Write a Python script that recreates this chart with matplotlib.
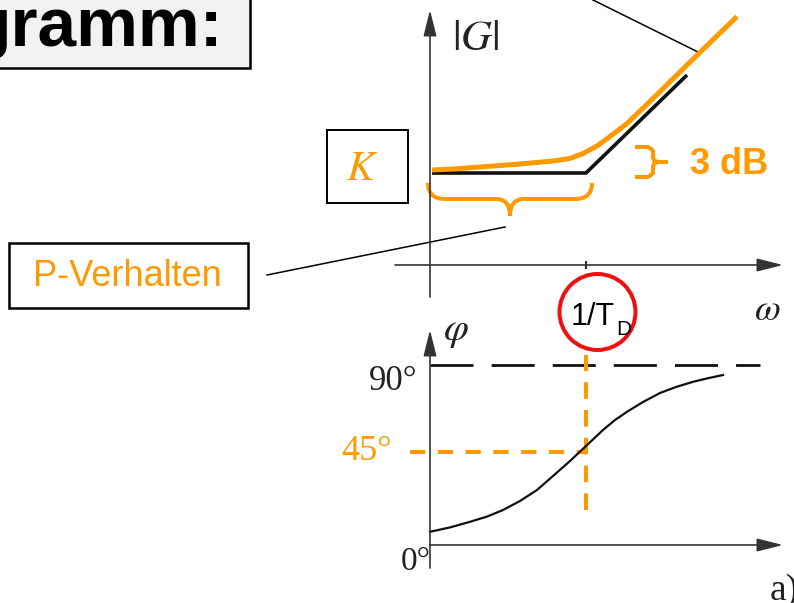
import matplotlib
matplotlib.use("Agg")
import matplotlib.pyplot as plt
from matplotlib.patches import Rectangle, Circle, PathPatch
from matplotlib.path import Path

plt.rcParams["lines.scale_dashes"] = False
plt.rcParams["mathtext.fontset"] = "stix"

ORANGE = "#FF9900"
SANS = "Liberation Sans"
SERIF = "Liberation Serif"

# magnitude: u = log10(w*T_D), |G| in dB relative to K
asym_u = [-1.54, 0.0, 1.01]
asym_db = [0.0, 0.0, 19.6]
mag_u = [-1.54, -1.33, -0.99, -0.66, -0.33, -0.16, -0.03, 0.11, 0.24, 0.41, 0.67, 1.01, 1.51]
mag_db = [0.6, 0.8, 1.3, 1.8, 2.4, 2.9, 3.9, 5.4, 7.3, 9.9, 14.9, 21.6, 31.3]

# phase in degrees
phase_u = [-1.56, -1.36, -1.16, -0.99, -0.83, -0.66, -0.49, -0.33, -0.16, 0.0,
           0.17, 0.29, 0.41, 0.57, 0.74, 0.9, 1.07, 1.22, 1.37]
phase_deg = [6.6, 8.8, 11.6, 14.2, 17.5, 22.0, 27.5, 34.5, 42.0, 49.5,
             57.5, 62.5, 66.6, 71.5, 76.0, 79.0, 81.6, 83.4, 85.0]
phase_ticks = [0, 45, 90]
phase_labels = ["0°", "45°", "90°"]

W, H = 794, 603
fig = plt.figure(figsize=(W / 100, H / 100), dpi=100)

# overlay in pixel coordinates for boxes and notes
ax0 = fig.add_axes([0, 0, 1, 1])
ax0.set_xlim(0, W)
ax0.set_ylim(H, 0)
ax0.axis("off")


def px_axes(x0, x1, y0, y1):
    return fig.add_axes([x0 / W, (H - y1) / H, (x1 - x0) / W, (y1 - y0) / H])


# magnitude panel: 100 px per decade, 5 px per dB
axm = px_axes(380, 794, 0, 300)
axm.set_xlim((380 - 586) / 100, (794 - 586) / 100)
axm.set_ylim((173 - 300) / 5, 173 / 5)
axm.axis("off")
axm.patch.set_alpha(0)

# phase panel: 2 px per degree
axp = px_axes(380, 794, 300, 603)
axp.set_xlim((380 - 586) / 100, (794 - 586) / 100)
axp.set_ylim((545 - 603) / 2, (545 - 300) / 2)
axp.axis("off")
axp.patch.set_alpha(0)

arrow = dict(arrowstyle="-|>,head_length=0.8,head_width=0.2", mutation_scale=20,
             lw=1.2, color="#333333", shrinkA=0, shrinkB=0)

u0 = phase_u[0]
# magnitude axes
axm.annotate("", xy=(u0, 32.6), xytext=(u0, -24.8), arrowprops=arrow)
axm.annotate("", xy=(1.97, -18.4), xytext=(-1.91, -18.4), arrowprops=arrow)
axm.plot([0, 0], [-17.8, -19.0], color="#333333", lw=1.5)
axm.plot(asym_u, asym_db, color="#111111", lw=2.6, solid_capstyle="butt")
axm.plot(mag_u, mag_db, color=ORANGE, lw=3.6, solid_capstyle="butt")

# phase axes
axp.annotate("", xy=(u0, 107.5), xytext=(u0, -11.5), arrowprops=arrow)
axp.annotate("", xy=(1.97, 0), xytext=(u0, 0), arrowprops=arrow)
axp.plot([u0, 1.74], [phase_ticks[2]] * 2, color="#111111", lw=2.0,
         dashes=(31, 13))
axp.plot([-1.76, 0], [phase_ticks[1] + 1.5] * 2, color=ORANGE, lw=2.9,
         dashes=(11, 9))
axp.plot([0, 0], [17.5, 95], color=ORANGE, lw=2.9, dashes=(12, 8))
axp.plot(phase_u, phase_deg, color="#111111", lw=1.6)

# phase tick labels
axp.text(u0 - 0.12, phase_ticks[2], phase_labels[2], ha="right", va="top",
         fontsize=25, family=SERIF, color="#222222")
axp.text(u0 - 0.38, phase_ticks[1] + 1.5, phase_labels[1], ha="right",
         va="center", fontsize=26, family=SERIF, color=ORANGE)
axp.text(u0 + 0.01, phase_ticks[0] - 1, phase_labels[0], ha="right", va="top",
         fontsize=24, family=SERIF, color="#222222")

# title box (cropped)
ax0.add_patch(Rectangle((-5, -5), 255, 73, facecolor="#f2f2f2",
                        edgecolor="black", lw=1.8))
ax0.text(223, 46, "gramm:", ha="right", va="baseline", fontsize=50,
         fontweight="bold", family=SANS, color="black")

# K box
ax0.add_patch(Rectangle((327, 130), 81, 73, facecolor="white",
                        edgecolor="black", lw=1.4))
ax0.text(362, 168, "$K$", ha="center", va="center", fontsize=30, color=ORANGE)

# P-Verhalten box
ax0.add_patch(Rectangle((9, 243), 239, 65, facecolor="white",
                        edgecolor="black", lw=1.8))
ax0.text(127, 276, "P-Verhalten", ha="center", va="center", fontsize=26,
         family=SANS, color=ORANGE)

# pointer lines
ax0.plot([267, 505], [275, 227], color="black", lw=1.1)
ax0.plot([593, 698], [0, 52], color="black", lw=1.1)

# big curly brace below the flat part
brace = [
    (428, 183), (428, 199), (445, 199), (445, 199),
    (496, 199), (510, 199), (510, 216),
    (510, 199), (524, 199), (575, 199),
    (592, 199), (592, 183),
]
codes = [Path.MOVETO, Path.CURVE3, Path.CURVE3, Path.LINETO,
         Path.LINETO, Path.CURVE3, Path.CURVE3,
         Path.CURVE3, Path.CURVE3, Path.LINETO,
         Path.CURVE3, Path.CURVE3]
ax0.add_patch(PathPatch(Path(brace, codes), facecolor="none", edgecolor=ORANGE,
                        lw=2.9, capstyle="butt"))

# small brace at 3 dB
sb = [
    (635, 147), (647, 147), (650, 147), (653, 151), (653, 157),
    (653, 162), (660, 162), (668, 162),
    (660, 162), (653, 162), (653, 167),
    (653, 173), (650, 177), (647, 177), (635, 177),
]
sc = [Path.MOVETO, Path.LINETO, Path.CURVE3, Path.CURVE3, Path.LINETO,
      Path.CURVE3, Path.CURVE3, Path.LINETO,
      Path.MOVETO, Path.CURVE3, Path.CURVE3,
      Path.LINETO, Path.CURVE3, Path.CURVE3, Path.LINETO]
ax0.add_patch(PathPatch(Path(sb, sc), facecolor="none", edgecolor=ORANGE,
                        lw=2.9, capstyle="butt"))
ax0.text(690, 165, "3 dB", ha="left", va="center", fontsize=26,
         fontweight="bold", family=SANS, color=ORANGE)

# axis labels
ax0.text(476, 38, "$|G|$", ha="center", va="center", fontsize=31, color="#222222")
ax0.text(456, 330, r"$\varphi$", ha="center", va="center", fontsize=29,
         color="#222222")
ax0.text(754, 310, r"$\omega$", ha="left", va="center", fontsize=27,
         color="#222222")
ax0.text(770, 600, "a)", ha="left", va="baseline", fontsize=27, family=SERIF,
         color="#222222")

# red circle around 1/T_D
ax0.add_patch(Circle((597.5, 312), 38, facecolor="none", edgecolor="#EE1111",
                     lw=2.9))
ax0.text(571, 325, "1/T", ha="left", va="baseline", fontsize=22, family=SANS,
         color="black")
ax0.text(616, 335, "D", ha="left", va="baseline", fontsize=15, family=SANS,
         color="black")

fig.savefig("out.png", dpi=100)
